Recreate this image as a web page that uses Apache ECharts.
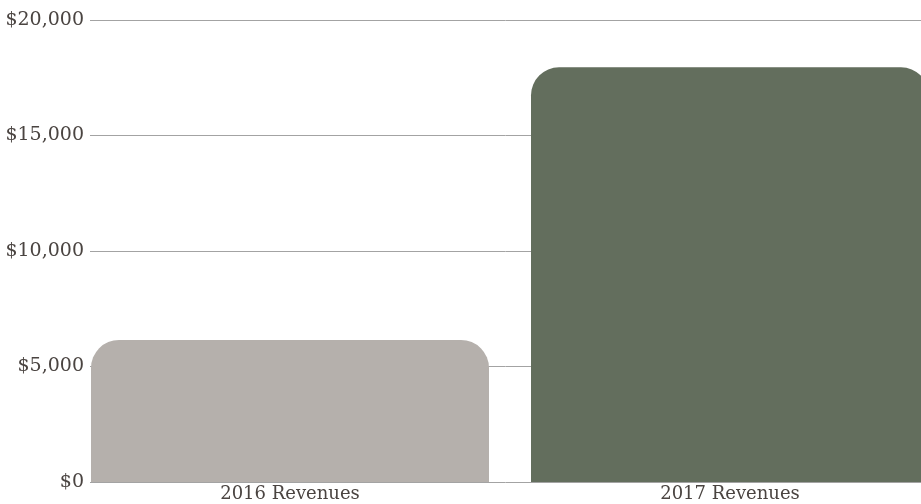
<!DOCTYPE html>
<html>
<head>
<meta charset="utf-8">
<script src="https://cdn.jsdelivr.net/npm/echarts@6/dist/echarts.min.js"></script>
<style>
  html, body { margin: 0; padding: 0; background: #fff; }
  #chart { width: 921px; height: 504px; }
</style>
</head>
<body>
<div id="chart"></div>
<script>
var categories = ['2016 Revenues', '2017 Revenues'];
var revenues = [6150, 17950];
var barColors = ['#b5b0ac', '#636e5d'];

var textColor = '#4a4441';
var fontFamily = '"DejaVu Serif", serif';

var chart = echarts.init(document.getElementById('chart'));

chart.setOption({
    animation: false,
    grid: [
        // axis grid: gridlines + y labels
        { left: 90, right: 0, top: 20, bottom: 22, outerBoundsMode: 'none' },
        // bar grid, wider so categories sit where the bars are
        { left: 70, right: -29, top: 20, bottom: 22, outerBoundsMode: 'none' }
    ],
    xAxis: [
        { type: 'category', gridIndex: 0, data: categories, show: false },
        {
            type: 'category', gridIndex: 1, data: categories,
            axisLine: { show: false },
            axisTick: { show: false },
            axisLabel: { color: textColor, fontFamily: fontFamily, fontSize: 18, margin: 3 }
        }
    ],
    yAxis: [
        {
            type: 'value', gridIndex: 0, min: 0, max: 20000, interval: 5000,
            axisLine: { show: false },
            axisTick: { show: false },
            splitLine: { lineStyle: { color: '#a3a3a3', width: 1 } },
            axisLabel: {
                color: textColor, fontFamily: fontFamily, fontSize: 19, margin: 6,
                formatter: function (v) { return '$' + v.toLocaleString('en-US'); }
            }
        },
        {
            type: 'value', gridIndex: 1, min: 0, max: 20000, interval: 5000,
            show: false, splitLine: { show: false }
        }
    ],
    series: [{
        type: 'bar',
        xAxisIndex: 1,
        yAxisIndex: 1,
        barWidth: 398,
        data: revenues.map(function (v, i) {
            return { value: v, itemStyle: { color: barColors[i], borderRadius: [28, 28, 0, 0] } };
        })
    }]
});
</script>
</body>
</html>
